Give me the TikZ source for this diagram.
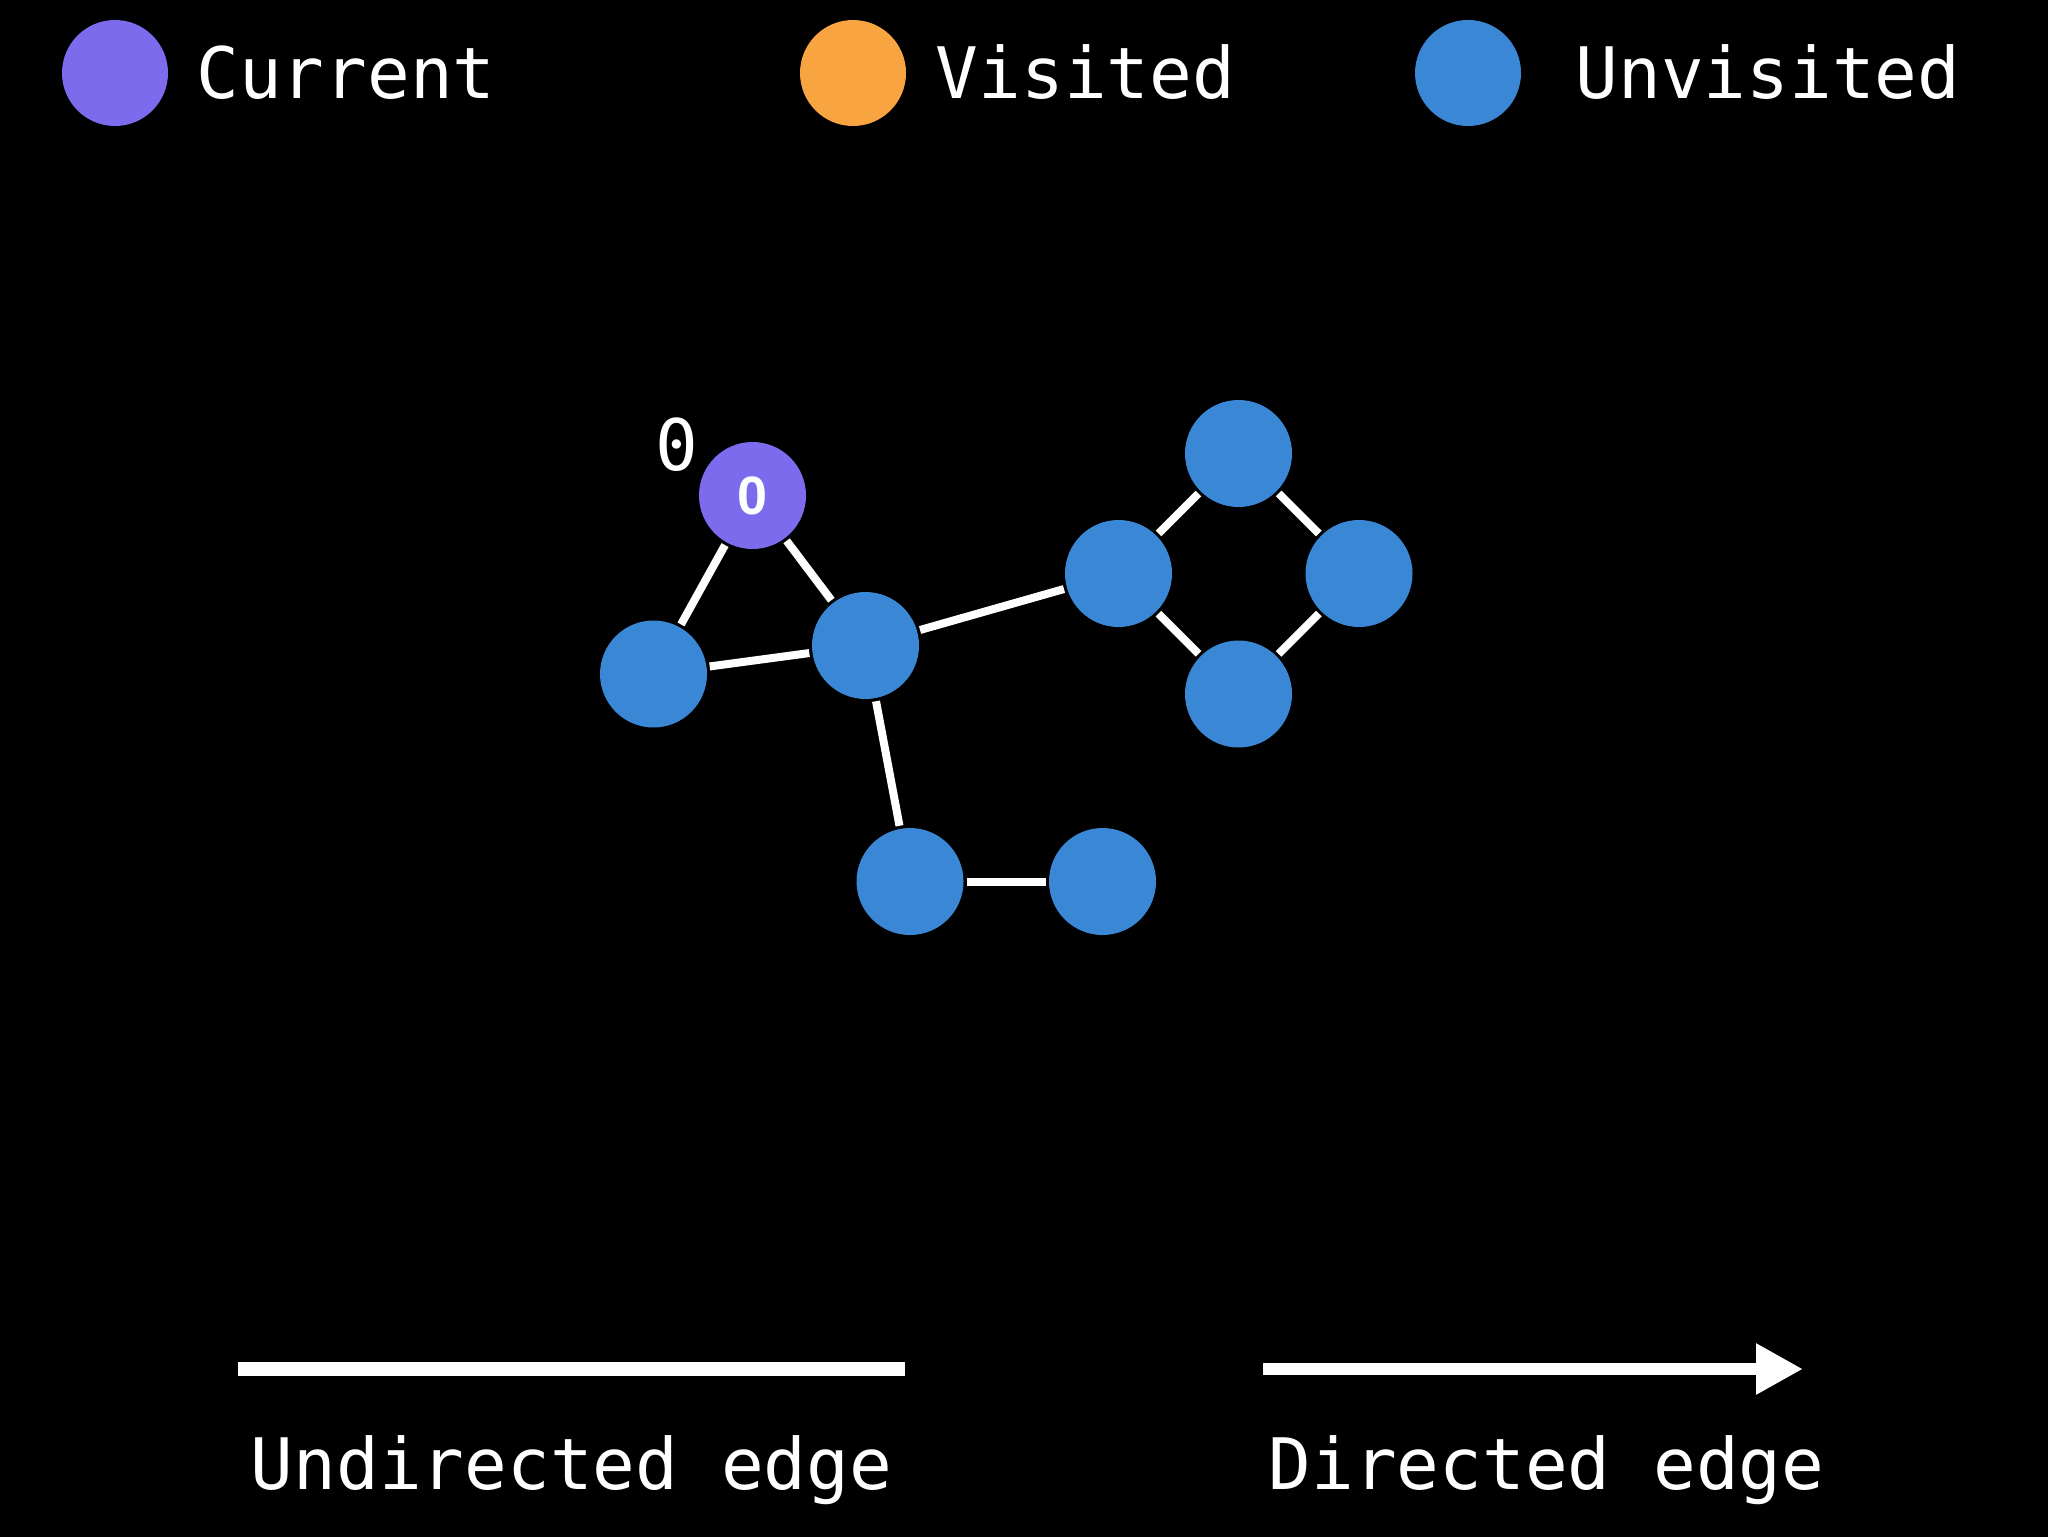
\documentclass[tikz,border=0pt]{standalone}
\usepackage{fontspec}
\setmonofont{DejaVu Sans Mono}
\newfontfamily\boldsans{Liberation Sans}
\usetikzlibrary{arrows.meta}
\definecolor{curcol}{RGB}{125,107,238}
\definecolor{viscol}{RGB}{248,165,65}
\definecolor{unvcol}{RGB}{58,135,213}
\tikzset{
  vtx/.style={circle,minimum size=53.5pt,inner sep=0pt,outer sep=1.6pt,fill=#1},
  vtx/.default=unvcol,
  edg/.style={draw=white,line width=4pt},
  lbl/.style={text=white,font=\ttfamily\fontsize{35.5pt}{40pt}\selectfont,anchor=base,inner sep=0pt},
  legdot/.style={circle,minimum size=53pt,inner sep=0pt,fill=#1}
}
\begin{document}
\begin{tikzpicture}[x=0.5pt,y=-0.5pt]
\useasboundingbox (0,0) rectangle (2048,1536);
\fill[black] (-20,-20) rectangle (2068,1556);
% legend
\node[legdot=curcol] (lc) at (115,73) {};
\node[lbl] (tc) at (346,98) {Current};
\node[legdot=viscol] (lv) at (853,73) {};
\node[lbl] (tv) at (1085.5,98) {Visited};
\node[legdot=unvcol] (lu) at (1468,73) {};
\node[lbl] (tu) at (1768,98) {Unvisited};
% graph
\node[vtx=curcol,text=white,font=\boldsans\bfseries\fontsize{27pt}{30pt}\selectfont] (n0) at (752.5,495.5) {0};
\node[vtx] (n1) at (653.5,674) {};
\node[vtx] (n2) at (865.5,645.5) {};
\node[vtx] (n3) at (910,881.5) {};
\node[vtx] (n4) at (1102.5,881.5) {};
\node[vtx] (n5) at (1118.5,573.5) {};
\node[vtx] (n6) at (1238.5,453.5) {};
\node[vtx] (n7) at (1359,573.5) {};
\node[vtx] (n8) at (1238.5,694) {};
\node[lbl] (d0) at (677,470) {0};
\draw[edg] (n0) -- (n1);
\draw[edg] (n0) -- (n2);
\draw[edg] (n1) -- (n2);
\draw[edg] (n2) -- (n3);
\draw[edg] (n2) -- (n5);
\draw[edg] (n3) -- (n4);
\draw[edg] (n5) -- (n6);
\draw[edg] (n6) -- (n7);
\draw[edg] (n7) -- (n8);
\draw[edg] (n5) -- (n8);
% edge legend
\coordinate (ua) at (238,1369);
\coordinate (ub) at (905,1369);
\coordinate (da) at (1263,1369);
\coordinate (db) at (1803,1369);
\draw[white,line width=7pt] (ua) -- (ub);
\draw[white,line width=6pt,-{Triangle[length=23.5pt,width=24pt]}] (da) -- (db);
\node[lbl] (tue) at (571.5,1489) {Undirected edge};
\node[lbl] (tde) at (1546.5,1489) {Directed edge};
\end{tikzpicture}
\end{document}
